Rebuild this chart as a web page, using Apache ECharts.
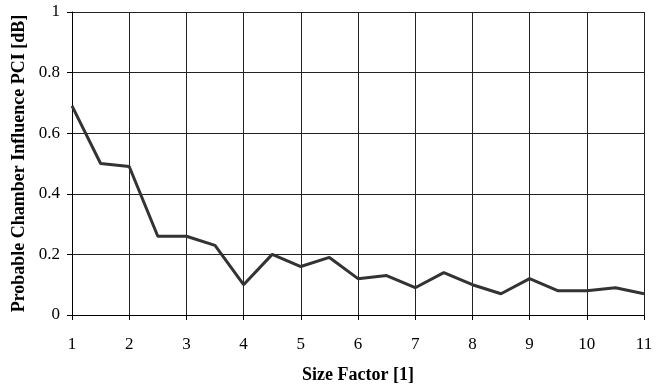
<!DOCTYPE html>
<html><head><meta charset="utf-8">
<script src="https://cdn.jsdelivr.net/npm/echarts@6/dist/echarts.min.js"></script>
<style>html,body{margin:0;padding:0;background:#fff}#c{width:667px;height:389px}</style>
</head><body><div id="c"></div>
<script>
const sizeFactor = [1, 1.5, 2, 2.5, 3, 3.5, 4, 4.5, 5, 5.5, 6, 6.5, 7, 7.5, 8, 8.5, 9, 9.5, 10, 10.5, 11];
const pci = [0.69, 0.50, 0.49, 0.26, 0.26, 0.23, 0.10, 0.20, 0.16, 0.19, 0.12, 0.13, 0.09, 0.14, 0.10, 0.07, 0.12, 0.08, 0.08, 0.09, 0.07];
const xTitle = 'Size Factor [1]';
const yTitle = 'Probable Chamber Influence PCI [dB]';

const font = '"Liberation Serif", "DejaVu Serif", serif';
const chart = echarts.init(document.getElementById('c'), null, {renderer: 'canvas'});
chart.setOption({
  animation: false,
  backgroundColor: '#fff',
  grid: {left: 72, right: 23, top: 12, bottom: 65, containLabel: false},
  xAxis: {
    type: 'value', min: 1, max: 11, interval: 1,
    name: xTitle, nameLocation: 'middle', nameGap: 51,
    nameTextStyle: {fontFamily: font, fontWeight: 'bold', fontSize: 18, color: '#000'},
    axisLine: {show: true, lineStyle: {color: '#000', width: 1}},
    axisTick: {show: true, inside: false, length: 5, lineStyle: {color: '#000'}},
    axisLabel: {fontFamily: font, fontSize: 17, color: '#000', margin: 21},
    splitLine: {show: true, lineStyle: {color: '#222', width: 1}}
  },
  yAxis: {
    type: 'value', min: 0, max: 1, interval: 0.2,
    name: yTitle, nameLocation: 'middle', nameGap: 40, nameRotate: 90,
    nameTextStyle: {fontFamily: font, fontWeight: 'bold', fontSize: 18, color: '#000'},
    axisLine: {show: true, lineStyle: {color: '#000', width: 1}},
    axisTick: {show: true, inside: false, length: 5, lineStyle: {color: '#000'}},
    axisLabel: {fontFamily: font, fontSize: 17, color: '#000', margin: 12,
      formatter: v => String(Math.round(v * 10) / 10)},
    splitLine: {show: true, lineStyle: {color: '#222', width: 1}}
  },
  series: [{
    type: 'line',
    data: sizeFactor.map((x, i) => [x, pci[i]]),
    showSymbol: false,
    lineStyle: {color: '#333', width: 3},
    z: 5
  }]
});
</script></body></html>
